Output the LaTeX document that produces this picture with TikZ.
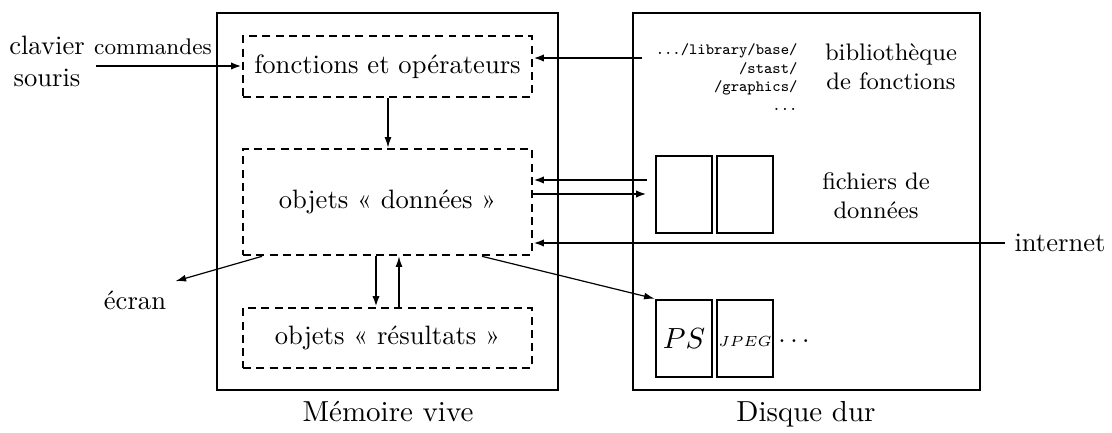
\documentclass[tikz,border=0pt]{standalone}
\usetikzlibrary{arrows.meta,fit}
\begin{document}
\begin{tikzpicture}[x=0.376pt,y=-0.376pt,
  bigbox/.style={draw,line width=1.1pt,inner sep=0pt},
  dbox/.style={draw,line width=1pt,dash pattern=on 3pt off 2pt,inner sep=0pt},
  filebox/.style={draw,line width=1pt,inner sep=0pt},
  thinarr/.style={line width=0.45pt,-{Latex[length=4pt,width=2.6pt]}},
  fatarr/.style={line width=1.05pt,-{Latex[length=4pt,width=2.8pt]}},
  lbl/.style={font=\fontsize{10.9}{13}\selectfont}]
\useasboundingbox (0,0) rectangle (1112,433);
% main boxes
\node[bigbox,fit={(217,13) (558,390)}] (mem) {};
\node[bigbox,fit={(633,13) (980,390)}] (disk) {};
% memory contents
\node[dbox,fit={(243,36) (532,97)}] (fonc) {};
\node (fonctxt) at (fonc.center) {fonctions et opérateurs};
\node[dbox,fit={(243,149) (532,255)}] (don) {};
\node (dontxt) at (don.center) {objets « données »};
\node[dbox,fit={(243,308) (532,368)}] (res) {};
\node (restxt) at (res.center) {objets « résultats »};
% disk contents
\node[filebox,fit={(656,156) (712,233)}] (f1) {};
\node[filebox,fit={(717,156) (773,233)}] (f2) {};
\node[filebox,fit={(656,300) (712,377)}] (p1) {};
\node (pstxt) at (p1.center) {\fontsize{11}{13}\selectfont$PS$};
\node[filebox,fit={(717,300) (773,377)}] (p2) {};
\node[scale=0.92] (jpgtxt) at ([yshift=-1pt]p2.center) {\fontsize{6}{7}\selectfont$JPEG$};
\node (more) at (794,341) {$\ldots$};
% labels
\node[lbl,anchor=base] (memlbl) at (388,422) {Mémoire vive};
\node[lbl,anchor=base] (disklbl) at (806,422) {Disque dur};
\node[align=center] (kb) at (47,61) {clavier\\souris};
\node[anchor=base,font=\fontsize{8.5}{10}\selectfont] (cmd) at (153,55) {commandes};
\node[anchor=north east,inner sep=0pt,align=right,font=\ttfamily\fontsize{5.9}{7}\selectfont] (libpath) at (798,43) {.../library/base/\\/stast/\\/graphics/\\...};
\node[align=center,font=\small] (libname) at (891,67) {bibliothèque\\de fonctions};
\node[align=center,font=\small] (fname) at (876,196) {fichiers de\\données};
\node (inet) at (1060,243) {internet};
\node (ecran) at (135,300) {écran};
% connectors
\coordinate (cmdsrc) at (96,66);
\draw[fatarr] (cmdsrc) -- (cmdsrc -| fonc.west);
\coordinate (libsrc) at (642,58);
\draw[fatarr] (libsrc) -- (libsrc -| fonc.east);
\draw[thinarr] (fonc.south -| 388,0) -- (don.north -| 388,0);
\draw[fatarr,shorten <=3pt] (f1.west |- 0,180) -- (don.east |- 0,180);
\draw[fatarr,shorten >=3pt] (don.east |- 0,194) -- (f1.west |- 0,194);
\draw[fatarr] (inet.west) -- (inet.west -| don.east);
\draw[fatarr] (don.south -| 376,0) -- (res.north -| 376,0);
\draw[thinarr] (res.north -| 399,0) -- (don.south -| 399,0);
\draw[thinarr] (don.south -| 262,0) -- (ecran.north east);
\draw[thinarr] (don.south -| 482,0) -- (p1.north west);
\end{tikzpicture}
\end{document}
